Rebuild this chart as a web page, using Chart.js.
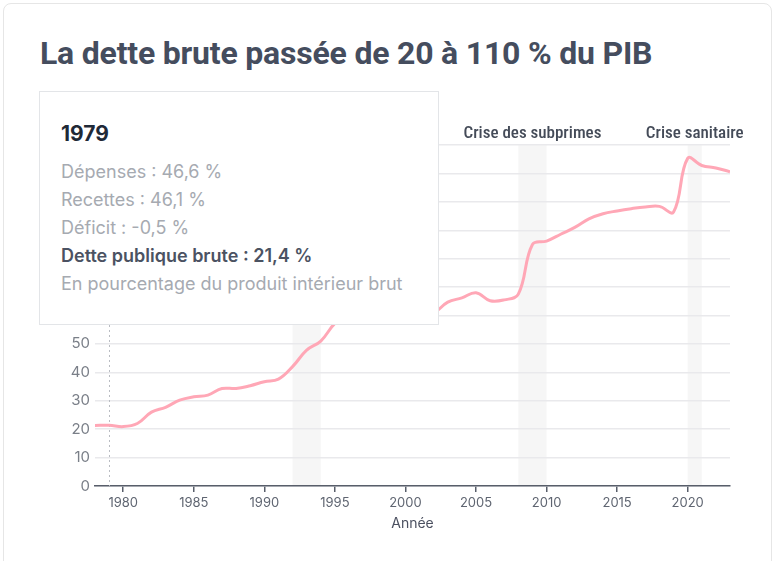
<!DOCTYPE html>
<html lang="fr">
<head>
<meta charset="utf-8">
<title>Dette publique brute</title>
<script src="https://cdn.jsdelivr.net/npm/chart.js@4.4.1/dist/chart.umd.min.js"></script>
<style>
  html, body { margin: 0; padding: 0; background: #fff; }
  body { width: 777px; height: 561px; position: relative; overflow: hidden; font-family: Inter, "Noto Sans", sans-serif; }
  .carte { position: absolute; left: 3px; top: 3px; width: 767px; height: 600px; border: 1px solid #e6e6e6; border-radius: 8px; }
  h1 { position: absolute; left: 40px; top: 33px; margin: 0; font-family: Roboto, sans-serif; font-weight: 700; font-size: 32px; line-height: 40px; letter-spacing: -0.2px; color: #454d5e; white-space: nowrap; }
  #graphique { position: absolute; left: 0; top: 0; }
  #infobulle { position: absolute; left: 39px; top: 91px; width: 377px; height: 202px; padding: 30px 0 0 21px; background: #fff; border: 1px solid #e3e5e8; display: none; }
  #infobulle .annee { font-size: 21px; font-weight: 700; line-height: 24px; color: #1f2937; margin-bottom: 12px; }
  #infobulle .ligne { font-size: 18px; line-height: 28px; color: #a6aab1; white-space: nowrap; }
  #infobulle .ligne.forte { color: #4b5262; font-weight: 600; }
</style>
</head>
<body>
<div class="carte"></div>
<h1>La dette brute passée de 20 à 110 % du PIB</h1>
<canvas id="graphique" width="777" height="561"></canvas>
<div id="infobulle"></div>
<script>
// Années et dette publique brute (% du PIB)
const annees = [1978, 1979, 1980, 1981, 1982, 1983, 1984, 1985, 1986, 1987,
  1988, 1989, 1990, 1991, 1992, 1993, 1994, 1995, 1996, 1997,
  1998, 1999, 2000, 2001, 2002, 2003, 2004, 2005, 2006, 2007,
  2008, 2009, 2010, 2011, 2012, 2013, 2014, 2015, 2016, 2017,
  2018, 2019, 2020, 2021, 2022, 2023];
const dette = [21.3, 21.4, 20.9, 22.0, 26.0, 27.7, 30.2, 31.4, 32.0, 34.3,
  34.3, 35.3, 36.7, 37.6, 42.0, 47.8, 51.0, 57.2, 60.5, 61.8,
  61.5, 60.6, 59.6, 59.2, 60.8, 64.7, 66.2, 68.0, 65.2, 65.5,
  67.5, 85.0, 86.2, 88.6, 91.0, 94.0, 95.8, 96.8, 97.6, 98.2,
  98.4, 96.4, 115.3, 112.8, 111.9, 110.6];

// Périodes de crise (bandes grises)
const crisesDebut = [1992, 2008, 2020];
const crisesFin = [1994, 2010, 2021];
const crisesNoms = ['', 'Crise des subprimes', 'Crise sanitaire'];

// Graduations
const graduationsX = [1980, 1985, 1990, 1995, 2000, 2005, 2010, 2015, 2020];

// Infobulle affichée pour 1979
const anneeSurvolee = 1979;
const depenses = [46.6];
const recettes = [46.1];
const deficit = [-0.5];

function formatFr(v) {
  return v.toFixed(1).replace('.', ',') + ' %';
}

const bandesCrises = {
  id: 'bandesCrises',
  beforeDraw(chart) {
    const { ctx, chartArea, scales } = chart;
    ctx.save();
    ctx.fillStyle = '#f6f6f6';
    crisesDebut.forEach((debut, i) => {
      const x1 = scales.x.getPixelForValue(debut);
      const x2 = scales.x.getPixelForValue(crisesFin[i]);
      ctx.fillRect(x1, chartArea.top, x2 - x1, chartArea.bottom - chartArea.top);
    });
    ctx.font = '500 17px "Roboto Condensed", "Liberation Sans Narrow", "DejaVu Sans Condensed", Roboto, sans-serif';
    ctx.fillStyle = '#444b58';
    ctx.textAlign = 'center';
    ctx.textBaseline = 'alphabetic';
    crisesNoms.forEach((nom, i) => {
      if (!nom) return;
      const xm = scales.x.getPixelForValue((crisesDebut[i] + crisesFin[i]) / 2);
      ctx.fillText(nom, xm, chartArea.top - 7);
    });
    ctx.restore();
  }
};

const ligneSurvol = {
  id: 'ligneSurvol',
  beforeDatasetsDraw(chart) {
    const actifs = chart.tooltip.getActiveElements();
    if (!actifs.length) return;
    const { ctx, chartArea } = chart;
    const x = actifs[0].element.x;
    ctx.save();
    ctx.strokeStyle = '#b9bcc2';
    ctx.lineWidth = 1;
    ctx.setLineDash([2, 3]);
    ctx.beginPath();
    ctx.moveTo(Math.round(x) + 0.5, chartArea.top);
    ctx.lineTo(Math.round(x) + 0.5, chartArea.bottom);
    ctx.stroke();
    ctx.restore();
  }
};

function infobulleExterne(context) {
  const el = document.getElementById('infobulle');
  const tip = context.tooltip;
  if (!tip.dataPoints || !tip.dataPoints.length) { el.style.display = 'none'; return; }
  const p = tip.dataPoints[0];
  const annee = p.raw.x;
  el.innerHTML =
    '<div class="annee">' + annee + '</div>' +
    '<div class="ligne">Dépenses : ' + formatFr(depenses[0]) + '</div>' +
    '<div class="ligne">Recettes : ' + formatFr(recettes[0]) + '</div>' +
    '<div class="ligne">Déficit : ' + formatFr(deficit[0]) + '</div>' +
    '<div class="ligne forte">Dette publique brute : ' + formatFr(p.raw.y) + '</div>' +
    '<div class="ligne">En pourcentage du produit intérieur brut</div>';
  el.style.display = 'block';
}

const graphique = new Chart(document.getElementById('graphique'), {
  type: 'line',
  data: {
    datasets: [{
      label: 'Dette publique brute',
      data: annees.map((a, i) => ({ x: a, y: dette[i] })),
      borderColor: '#ffa7b6',
      borderWidth: 3,
      tension: 0.4,
      fill: false,
      pointRadius: 0,
      pointHoverRadius: 0,
      pointHitRadius: 0
    }]
  },
  options: {
    responsive: false,
    animation: false,
    events: [],
    layout: { padding: { left: 0, right: 47, top: 145, bottom: 28 } },
    plugins: {
      legend: { display: false },
      title: { display: false },
      tooltip: { enabled: false, external: infobulleExterne, mode: 'nearest', intersect: false }
    },
    scales: {
      x: {
        type: 'linear',
        min: 1978,
        max: 2023,
        afterFit(scale) { scale.height = 47; },
        afterBuildTicks(scale) { scale.ticks = graduationsX.map(v => ({ value: v })); },
        border: { display: true, color: '#585e6a', width: 1.5 },
        grid: { drawOnChartArea: false, drawTicks: true, tickLength: 6, color: '#585e6a', lineWidth: 1.5 },
        ticks: {
          padding: 3,
          color: '#5f6571',
          font: { family: 'Inter', size: 13 },
          callback: v => String(v)
        },
        title: {
          display: true,
          text: 'Année',
          color: '#4b5060',
          font: { family: 'Inter', size: 14 },
          padding: { top: 0, bottom: 1 }
        }
      },
      y: {
        min: 0,
        max: 120,
        afterFit(scale) { scale.width = 95; },
        border: { display: false },
        grid: { color: '#e9e9ec', lineWidth: 1.5, drawTicks: false },
        ticks: {
          stepSize: 10,
          padding: 5,
          color: '#7a7f88',
          font: { family: 'Inter', size: 15 }
        }
      }
    }
  },
  plugins: [bandesCrises, ligneSurvol]
});

// Afficher l'infobulle pour 1979
const indexSurvol = annees.indexOf(anneeSurvolee);
graphique.tooltip.setActiveElements([{ datasetIndex: 0, index: indexSurvol }], { x: 0, y: 0 });
graphique.update();
</script>
</body>
</html>
